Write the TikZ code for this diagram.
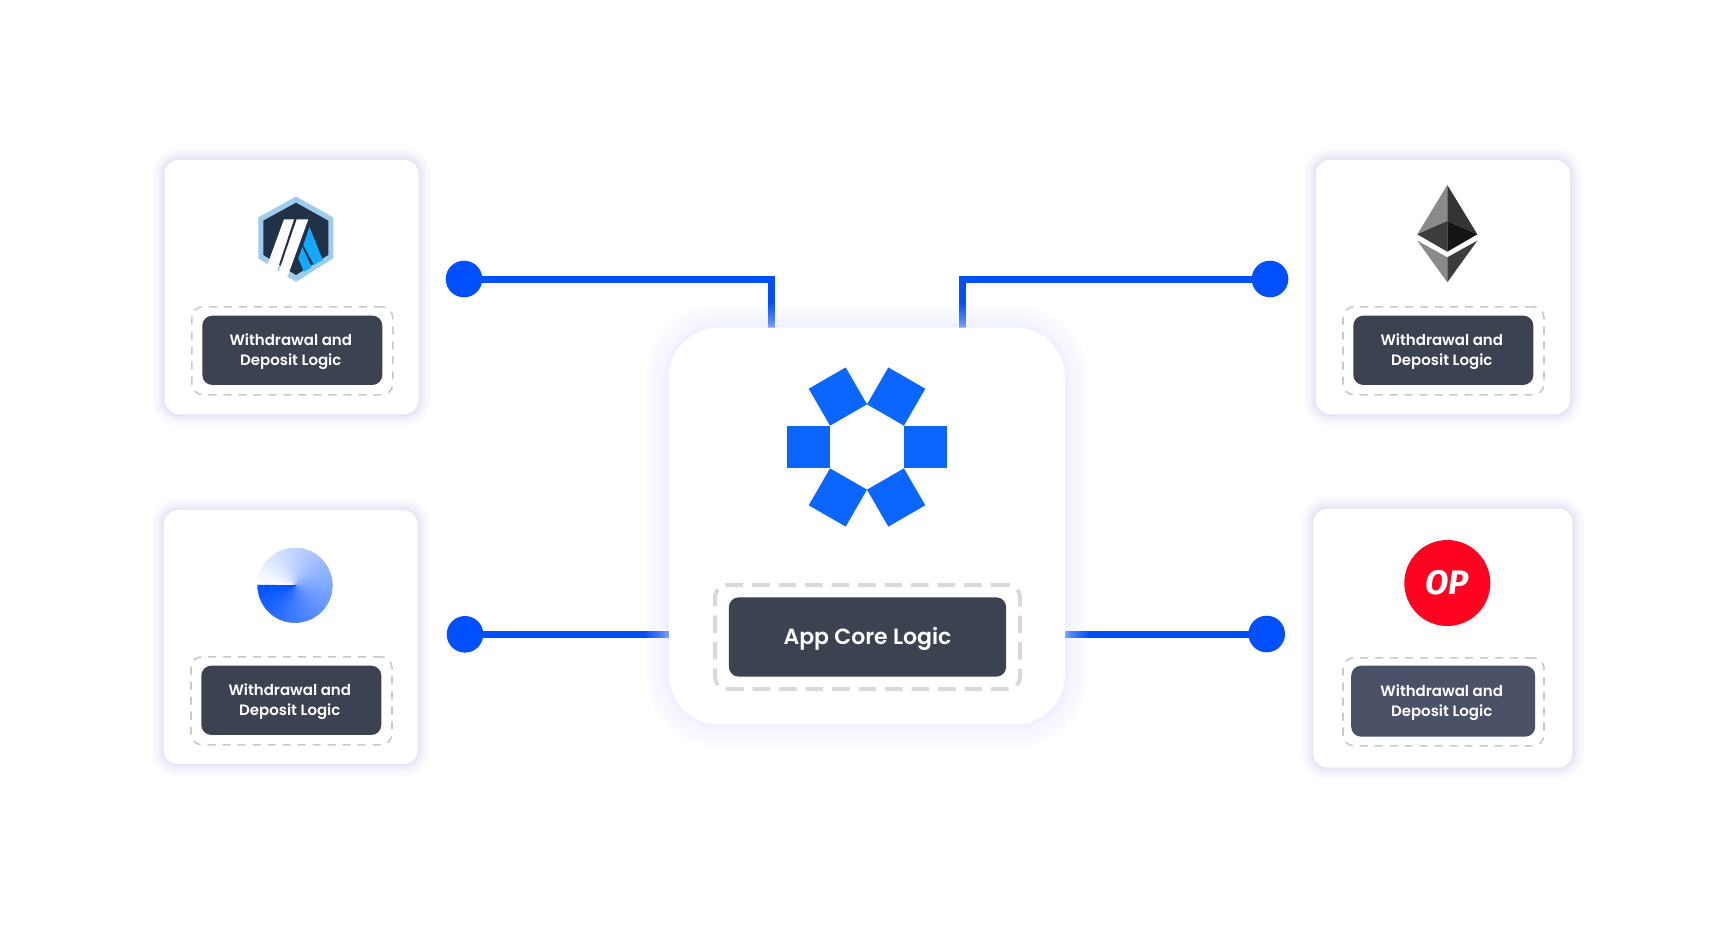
\documentclass[tikz,border=0pt]{standalone}
\usepackage{fontspec}
\setmainfont{Poppins SemiBold}
\newfontfamily\opfont{Fira Sans}
\pgfdeclarelayer{wires}
\pgfdeclarelayer{halos}
\pgfsetlayers{wires,halos,main}
\definecolor{wireblue}{HTML}{0050FF}
\definecolor{logoblue}{HTML}{0A66FF}
\definecolor{boxdark}{HTML}{3D4250}
\definecolor{boxslate}{HTML}{4B5268}
\definecolor{dashgrey}{HTML}{C9C9C9}
\definecolor{coredash}{HTML}{D9D9D9}
\definecolor{halosmall}{HTML}{B9B9E4}
\definecolor{halobig}{HTML}{E8EAFF}
\definecolor{arbring}{HTML}{9DCCED}
\definecolor{arbnavy}{HTML}{213147}
\definecolor{arbblue}{HTML}{12AAFF}
\definecolor{ethmid}{HTML}{8A8A8A}
\definecolor{ethdark}{HTML}{343434}
\definecolor{ethdeep}{HTML}{3C3C3B}
\definecolor{ethblack}{HTML}{141414}
\definecolor{piemix}{HTML}{0050FF}
\definecolor{opred}{HTML}{FF0420}
\newcommand{\logictext}{\rule{0pt}{14.5pt}\hspace*{-3pt}Withdrawal and\\\hspace*{-3pt}Deposit Logic}
\tikzset{
  card/.style={fill=white, rounded corners=14pt, inner sep=0pt, minimum width=254pt, minimum height=254pt},
  corecard/.style={fill=white, rounded corners=50pt, inner sep=0pt, minimum width=396pt, minimum height=397pt},
  dashbox/.style={draw=dashgrey, line width=1.6pt, dash pattern=on 8pt off 7pt, rounded corners=11pt, inner sep=0pt, minimum width=201pt, minimum height=88pt},
  logicbox/.style={fill=boxdark, text=white, rounded corners=10pt, inner sep=0pt, minimum width=180pt, minimum height=69.3pt, align=center, font=\fontsize{15}{19.5}\selectfont},
  wire/.style={wireblue, line width=7pt},
  dot/.style={circle, fill=wireblue, inner sep=0pt, minimum size=36.6pt}
}
\begin{document}
\begin{tikzpicture}[x=1pt, y=-1pt]
  \useasboundingbox (0, 0) rectangle (1734, 928);
  \begin{pgfonlayer}{wires}
    \fill[white] (0, 0) rectangle (1734, 928);
  \end{pgfonlayer}

  % cards
  \node[card] (cardTL) at (291.6, 287) {};
  \node[card] (cardBL) at (290.7, 637.2) {};
  \node[card] (cardTR) at (1442.8, 287) {};
  \node[card, minimum width=259pt, minimum height=259pt] (cardBR) at (1442.8, 638) {};
  \node[corecard] (core) at (867, 526) {};

  % halos
  \begin{pgfonlayer}{halos}
    \foreach \cardname in {cardTL, cardBL, cardTR, cardBR}
      \foreach \g in {1,2,3,4,6,8,10,13,16,20,24}
        \draw[halosmall, opacity=0.035, line width=\g pt, rounded corners=14pt] (\cardname.north west) rectangle (\cardname.south east);
    \foreach \g in {2,4,6,8,10,13,16,20,24,29,34,40,46}
      \draw[halobig, opacity=0.06, line width=\g pt, rounded corners=50pt] (core.north west) rectangle (core.south east);
  \end{pgfonlayer}

  % dots
  \node[dot] (dotTL) at (464, 279) {};
  \node[dot] (dotBL) at (465, 634.3) {};
  \node[dot] (dotTR) at (1270, 279) {};
  \node[dot] (dotBR) at (1266.7, 634) {};

  % wires
  \coordinate (inTL) at (771.7, 327.7);
  \coordinate (inTR) at (962, 327.7);
  \begin{pgfonlayer}{wires}
    \draw[wire] (dotTL.center) -| (inTL);
    \draw[wire] (dotTR.center) -| (inTR);
    \draw[wire] (dotBL.center) -- (core.west |- dotBL);
    \draw[wire] (dotBR.center) -- (core.east |- dotBR);
  \end{pgfonlayer}

  % logic boxes
  \node[dashbox] (dashTL) at (292.3, 350.8) {};
  \node[logicbox] (logicTL) at (292.3, 350.3) {\logictext};
  \node[dashbox] (dashBL) at (291.5, 700.8) {};
  \node[logicbox] (logicBL) at (291.3, 700.3) {\logictext};
  \node[dashbox] (dashTR) at (1443.5, 350.8) {};
  \node[logicbox] (logicTR) at (1443.3, 350.3) {\logictext};
  \node[dashbox] (dashBR) at (1443.5, 701.8) {};
  \node[logicbox, fill=boxslate, minimum width=184pt, minimum height=71pt] (logicBR) at (1443.2, 701.2) {\logictext};
  \node[draw=coredash, line width=4pt, dash pattern=on 17.5pt off 9pt, rounded corners=12pt, inner sep=0pt, minimum width=305pt, minimum height=104pt] (dashCore) at (867.5, 637) {};
  \node[fill=boxdark, text=white, rounded corners=10pt, inner sep=0pt, minimum width=277.3pt, minimum height=79.4pt, text height=21pt, font=\fontsize{22}{26}\selectfont] (logicCore) at (867.5, 637) {App Core Logic};

  % core logo
  \foreach \a in {0,60,...,300}
    \fill[logoblue, shift={(867, 447)}, rotate=\a] (36.95, -21.33) rectangle (79.6, 21.33);

  % arbitrum logo
  \filldraw[fill=arbring, draw=arbring, line width=2pt, line join=round] (296, 197.7) -- (332.3, 218) -- (332.3, 257.8) -- (296, 280.7) -- (259.3, 257.8) -- (259.3, 218) -- cycle;
  \fill[arbnavy] (296, 202.7) -- (328.3, 220.7) -- (328.3, 255) -- (296, 275) -- (263.3, 255) -- (263.3, 220.7) -- cycle;
  \fill[white] (284, 219.3) -- (294, 219.3) -- (276.7, 271.7) -- (267.3, 265) -- cycle;
  \fill[white] (296.7, 219.3) -- (308.3, 219.3) -- (287.7, 276) -- (278.3, 273.3) -- cycle;
  \fill[arbblue] (309.5, 227) -- (322.7, 260) -- (314, 265) -- (303.3, 245) -- cycle;
  \fill[arbblue] (302.3, 247) -- (311.7, 267.3) -- (304, 271.7) -- (298.3, 258.3) -- cycle;

  % eth logo
  \fill[ethmid] (1447.3, 185) -- (1417.3, 234.3) -- (1447.3, 221) -- cycle;
  \fill[ethdark] (1447.3, 185) -- (1477.3, 234.3) -- (1447.3, 221) -- cycle;
  \fill[ethdeep] (1417.3, 234.3) -- (1447.3, 221) -- (1447.3, 251.7) -- cycle;
  \fill[ethblack] (1477.3, 234.3) -- (1447.3, 221) -- (1447.3, 251.7) -- cycle;
  \fill[ethmid] (1417.3, 240.7) -- (1447.3, 257.3) -- (1447.3, 282.3) -- cycle;
  \fill[ethdeep] (1477.3, 240.7) -- (1447.3, 257.3) -- (1447.3, 282.3) -- cycle;

  % pie logo
  \foreach \a [evaluate=\a as \p using \a/3.6] in {0,2,...,358}
    \filldraw[fill=piemix!\p!white, draw=piemix!\p!white, line width=0.3pt] (295, 585.3) -- +(180+\a:37.3) -- +(182.5+\a:37.3) -- cycle;

  % op logo
  \node[circle, fill=opred, inner sep=0pt, minimum size=86pt, text=white, font=\opfont\fontsize{34}{34}\selectfont\bfseries\itshape] (opLogo) at (1447.3, 583) {OP};
\end{tikzpicture}
\end{document}
